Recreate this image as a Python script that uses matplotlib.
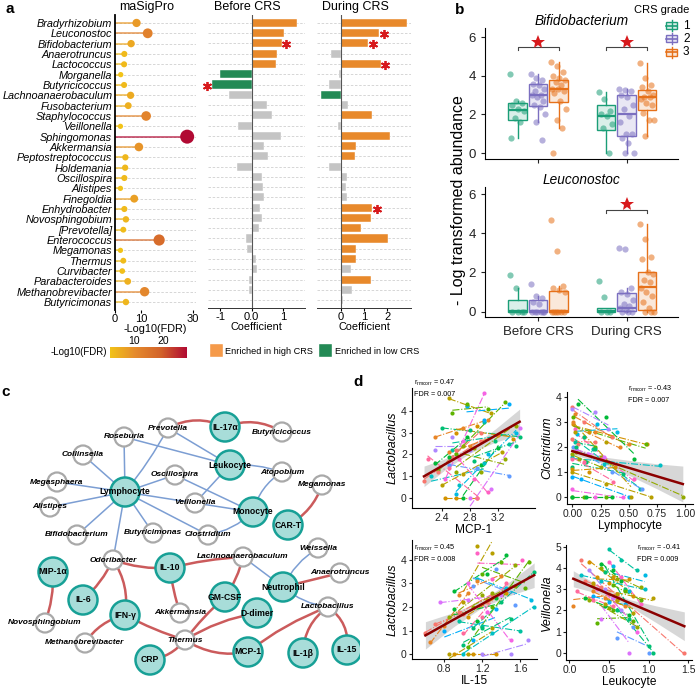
import numpy as np
import matplotlib
matplotlib.use("Agg")
import matplotlib.pyplot as plt
from matplotlib.colors import LinearSegmentedColormap, to_rgba
from matplotlib.patches import Circle, Rectangle, FancyArrowPatch

plt.rcParams['font.family'] = ['Liberation Sans', 'DejaVu Sans']
plt.rcParams['mathtext.default'] = 'regular'

# ---------------- panel a data ----------------
taxa = ['Bradyrhizobium', 'Leuconostoc', 'Bifidobacterium', 'Anaerotruncus', 'Lactococcus',
        'Morganella', 'Butyricicoccus', 'Lachnoanaerobaculum', 'Fusobacterium', 'Staphylococcus',
        'Veillonella', 'Sphingomonas', 'Akkermansia', 'Peptostreptococcus', 'Holdemania',
        'Oscillospira', 'Alistipes', 'Finegoldia', 'Enhydrobacter', 'Novosphingobium',
        '[Prevotella]', 'Enterococcus', 'Megamonas', 'Thermus', 'Curvibacter',
        'Parabacteroides', 'Methanobrevibacter', 'Butyricimonas']
neg_log_fdr = [8.3, 12.6, 6.2, 3.6, 3.5, 2.2, 3.5, 6.0, 5.1, 12.0, 2.1, 27.8, 9.2, 4.0,
               3.9, 3.6, 2.1, 7.4, 3.6, 4.2, 3.2, 17.0, 2.1, 3.2, 2.8, 4.9, 11.4, 4.2]
coef_before = [1.45, 1.03, 0.95, 0.79, 0.77, -1.0, -1.27, -0.71, 0.48, 0.63, -0.44, 0.93,
               0.40, 0.53, -0.46, 0.34, 0.35, 0.38, 0.26, 0.33, 0.23, -0.19, -0.14, 0.14,
               0.17, -0.08, -0.08, 0.01]
coef_during = [2.83, 1.66, 1.19, -0.42, 1.73, -0.06, -0.5, -0.85, 0.33, 1.33, -0.1, 2.11,
               0.67, 0.61, -0.5, 0.29, 0.21, 0.27, 1.36, 1.30, 0.88, 2.04, 0.67, 0.64,
               0.43, 1.31, 0.47, 0.11]
group_before = ['high'] * 5 + ['low'] * 2 + ['ns'] * 21
group_during = ['high', 'high', 'high', 'ns', 'high', 'ns', 'ns', 'low', 'ns', 'high',
                'ns', 'high', 'high', 'high', 'ns', 'ns', 'ns', 'ns', 'high', 'high',
                'high', 'high', 'high', 'high', 'ns', 'high', 'ns', 'ns']
star_before = ['Bifidobacterium', 'Butyricicoccus']
star_during = ['Leuconostoc', 'Bifidobacterium', 'Lactococcus', 'Enhydrobacter']

# ---------------- panel b data ----------------
timepoints = ['Before CRS', 'During CRS']
grades = ['1', '2', '3']
# (whislo, q1, median, q3, whishi) per time point and grade
bifido_stats = [[(0.8, 1.7, 2.25, 2.6, 2.7), (1.6, 2.45, 3.0, 3.6, 4.1), (1.3, 2.65, 3.3, 3.8, 4.7)],
                [(0.0, 1.2, 1.9, 2.5, 3.15), (0.0, 0.9, 2.0, 3.0, 3.3), (0.9, 2.25, 2.9, 3.25, 4.65)]]
bifido_points = [[[4.1, 2.7, 2.6, 2.5, 2.3, 2.2, 1.8, 1.6, 0.8],
                  [4.1, 3.9, 3.8, 3.6, 3.5, 3.3, 3.2, 3.0, 3.0, 2.9, 2.7, 2.5, 2.4, 2.0, 1.6, 0.65],
                  [4.7, 4.5, 4.2, 4.0, 3.9, 3.8, 3.7, 3.5, 3.3, 3.3, 3.2, 3.1, 2.7, 2.3, 1.7, 1.3, 0.0]],
                 [[3.15, 2.8, 2.2, 2.0, 1.9, 1.5, 1.3, 0.0],
                  [3.3, 3.25, 3.2, 3.0, 2.9, 2.5, 2.3, 1.9, 1.6, 1.0, 1.0, 0.8, 0.5, 0.0, 0.0],
                  [4.65, 3.9, 3.5, 3.4, 3.2, 3.0, 2.9, 2.9, 2.8, 2.6, 2.5, 2.1, 1.7, 1.7, 0.9]]]
leuco_stats = [[(0.0, 0.0, 0.02, 0.6, 1.2), (0.0, 0.0, 0.05, 0.6, 0.8), (0.0, 0.0, 0.02, 1.05, 1.3)],
               [(0.0, 0.0, 0.05, 0.2, 0.2), (0.0, 0.05, 0.2, 0.95, 1.2), (0.0, 0.1, 1.25, 2.0, 4.5)]]
leuco_points = [[[1.85, 1.2, 0.0, 0.0, 0.0, 0.0],
                 [1.4, 0.8, 0.7, 0.5, 0.4, 0.0, 0.0, 0.0, 0.0, 0.0, 0.0],
                 [4.7, 3.1, 1.3, 1.2, 1.1, 1.0, 0.0, 0.0, 0.0, 0.0, 0.0, 0.0]],
                [[1.55, 0.75, 0.0, 0.0, 0.0],
                 [3.25, 3.2, 1.2, 1.0, 0.9, 0.6, 0.4, 0.3, 0.2, 0.1, 0.0, 0.0, 0.0],
                 [4.5, 3.7, 2.8, 2.7, 2.0, 1.9, 1.6, 1.5, 1.2, 1.0, 0.8, 0.5, 0.2, 0.0, 0.0, 0.0]]]
bifido_sig = [True, True]
leuco_sig = [False, True]

# ---------------- panel c data ----------------
node_pos = {
    'Prevotella': (168, 428), 'IL-17α': (225, 427), 'Butyricicoccus': (282, 432),
    'Roseburia': (124, 437), 'Collinsella': (83, 455), 'Leukocyte': (230, 465),
    'Oscillospira': (175, 475), 'Atopobium': (282, 472), 'Megasphaera': (57, 482),
    'Lymphocyte': (125, 492), 'Megamonas': (322, 485), 'Alistipes': (50, 507),
    'Veillonella': (195, 503), 'Monocyte': (253, 512), 'CAR-T': (288, 525),
    'Bifidobacterium': (77, 535), 'Butyricimonas': (153, 533), 'Clostridium': (208, 535),
    'Weissella': (318, 548), 'Odoribacter': (113, 560), 'Lachnoanaerobaculum': (243, 557),
    'MIP-1α': (53, 572), 'IL-10': (170, 568), 'Anaerotruncus': (340, 573),
    'Neutrophil': (283, 587), 'GM-CSF': (225, 597), 'IL-6': (83, 600),
    'Lactobacillus': (328, 607), 'D-dimer': (257, 613), 'IFN-γ': (125, 615),
    'Akkermansia': (180, 613), 'Novosphingobium': (45, 623), 'Methanobrevibacter': (85, 643),
    'Thermus': (185, 640), 'MCP-1': (248, 652), 'IL-1β': (303, 653), 'IL-15': (347, 650),
    'CRP': (150, 660),
}
host_nodes = ['IL-17α', 'Leukocyte', 'Lymphocyte', 'Monocyte', 'CAR-T', 'MIP-1α', 'IL-10',
              'Neutrophil', 'GM-CSF', 'IL-6', 'D-dimer', 'IFN-γ', 'MCP-1', 'IL-1β', 'IL-15', 'CRP']
neg_edges = [('Lymphocyte', 'Roseburia', 0), ('Lymphocyte', 'Prevotella', 0.05),
             ('Lymphocyte', 'Collinsella', 0), ('Lymphocyte', 'Megasphaera', 0),
             ('Lymphocyte', 'Alistipes', 0), ('Lymphocyte', 'Bifidobacterium', 0),
             ('Lymphocyte', 'Butyricimonas', 0), ('Lymphocyte', 'Clostridium', 0),
             ('Lymphocyte', 'Oscillospira', 0), ('Lymphocyte', 'Odoribacter', 0),
             ('Lymphocyte', 'Veillonella', 0), ('Veillonella', 'Monocyte', 0),
             ('Veillonella', 'Leukocyte', 0), ('Prevotella', 'Leukocyte', 0),
             ('Roseburia', 'Leukocyte', 0), ('Leukocyte', 'Atopobium', -0.1),
             ('Oscillospira', 'Monocyte', 0), ('Monocyte', 'Atopobium', -0.2),
             ('Monocyte', 'Clostridium', -0.15), ('Lachnoanaerobaculum', 'Neutrophil', 0),
             ('Weissella', 'Neutrophil', 0.15), ('Neutrophil', 'Lactobacillus', 0.15)]
pos_edges = [('Prevotella', 'IL-17α', -0.25), ('IL-17α', 'Butyricicoccus', -0.25),
             ('Megamonas', 'CAR-T', -0.2), ('Odoribacter', 'IL-10', 0.1),
             ('IL-10', 'Lachnoanaerobaculum', -0.05), ('Odoribacter', 'IL-6', -0.1),
             ('Odoribacter', 'IFN-γ', -0.2), ('IL-10', 'Akkermansia', 0.05),
             ('Lachnoanaerobaculum', 'GM-CSF', -0.1), ('GM-CSF', 'Thermus', 0.05),
             ('D-dimer', 'Thermus', 0.1), ('IFN-γ', 'Thermus', 0.05),
             ('IFN-γ', 'Methanobrevibacter', 0.2), ('Thermus', 'CRP', -0.2),
             ('Thermus', 'MCP-1', 0.2), ('MCP-1', 'Lactobacillus', -0.08),
             ('Lactobacillus', 'IL-1β', 0.25), ('Lactobacillus', 'IL-15', -0.3),
             ('Neutrophil', 'Anaerotruncus', 0), ('MIP-1α', 'Novosphingobium', -0.1)]

# ---------------- panel d data ----------------
mcp1_x = [[2.15, 2.55, 2.95], [2.3, 2.7, 3.05], [2.45, 2.6, 2.9], [2.5, 2.75, 3.1],
          [2.6, 2.85, 3.45], [2.35, 2.6, 3.3], [2.7, 2.95, 3.2], [2.4, 2.8, 3.5],
          [2.55, 3.0, 3.35], [2.25, 2.65, 3.0], [2.6, 3.05, 3.45], [2.75, 3.0, 3.35],
          [2.5, 2.9, 3.35], [2.3, 2.55, 2.8], [2.8, 3.1, 3.5], [2.45, 2.7, 3.0],
          [2.65, 2.85, 3.05], [2.2, 2.5, 2.9], [2.35, 2.6, 2.95], [2.5, 2.8, 3.2],
          [2.6, 2.9, 3.4], [2.4, 2.7, 3.25], [2.7, 2.95, 3.3], [2.55, 2.75, 3.05],
          [2.3, 2.5, 2.75], [2.85, 3.15, 3.45]]
lacto1_y = [[0.8, 1.9, 2.6], [2.8, 3.2, 3.6], [0.0, 0.0, 0.0], [4.6, 4.2, 3.9],
            [1.2, 2.3, 3.3], [1.3, 2.0, 4.4], [0.0, 1.5, 2.3], [3.2, 3.1, 2.8],
            [2.2, 3.5, 2.5], [1.0, 0.6, 1.6], [0.2, 2.0, 3.0], [4.2, 3.6, 4.3],
            [1.5, 1.4, 1.0], [2.2, 2.8, 2.2], [0.0, 0.4, 3.2], [0.9, 2.6, 4.8],
            [1.8, 0.9, 0.3], [1.8, 1.4, 0.0], [1.2, 2.2, 3.0], [2.1, 2.4, 2.9],
            [3.0, 3.3, 2.7], [0.6, 1.1, 2.1], [2.4, 1.2, 1.8], [3.9, 4.3, 4.1],
            [1.6, 1.9, 2.8], [1.7, 2.6, 2.4]]
lymph_x = [[0.0, 0.1, 0.35], [0.02, 0.2, 0.5], [0.01, 0.15, 0.66], [0.0, 0.3, 0.7],
           [0.03, 0.25, 0.98], [0.0, 0.1, 0.3], [0.05, 0.3, 0.55], [0.0, 0.12, 0.45],
           [0.02, 0.18, 0.6], [0.0, 0.28, 0.78], [0.04, 0.22, 0.4], [0.0, 0.08, 0.5],
           [0.01, 0.35, 0.62], [0.0, 0.2, 0.32], [0.03, 0.14, 0.28], [0.0, 0.2, 0.45],
           [0.02, 0.25, 0.55], [0.0, 0.1, 0.36], [0.0, 0.05, 0.2], [0.01, 0.1, 0.42],
           [0.0, 0.15, 0.38], [0.02, 0.3, 0.52], [0.0, 0.06, 0.25], [0.01, 0.2, 0.65],
           [0.0, 0.12, 0.35], [0.03, 0.1, 0.2]]
clost_y = [[3.6, 3.0, 2.4], [3.3, 2.6, 2.1], [2.9, 2.6, 2.1], [1.0, 0.5, 0.0],
           [1.8, 1.6, 0.0], [0.0, 0.0, 0.0], [3.7, 3.2, 1.5], [1.2, 1.4, 0.9],
           [2.2, 1.9, 0.3], [1.6, 1.3, 1.25], [2.5, 2.9, 2.6], [0.8, 0.7, 0.0],
           [2.0, 1.0, 0.3], [3.5, 3.4, 2.7], [1.9, 1.7, 1.6], [0.3, 0.0, 0.0],
           [2.7, 1.5, 0.7], [1.5, 1.4, 0.6], [2.3, 2.1, 2.2], [3.0, 2.4, 2.0],
           [1.1, 1.0, 1.2], [2.6, 2.2, 0.0], [1.7, 1.5, 1.2], [3.2, 2.0, 2.1],
           [0.0, 0.0, 0.0], [2.0, 2.4, 1.9]]
il15_x = [[0.6, 0.95, 1.3], [0.65, 0.8, 1.05], [0.9, 1.1, 1.35], [1.0, 1.15, 1.3],
          [0.85, 1.2, 1.55], [1.05, 1.3, 1.7], [0.9, 1.25, 1.45], [1.1, 1.4, 1.75],
          [0.95, 1.2, 1.6], [1.0, 1.3, 1.75], [1.15, 1.45, 1.72], [0.8, 1.1, 1.35],
          [1.1, 1.35, 1.55], [1.2, 1.5, 1.68], [0.75, 1.05, 1.4], [1.05, 1.25, 1.5],
          [1.15, 1.3, 1.62], [1.0, 1.2, 1.45], [0.7, 1.0, 1.25], [0.95, 1.15, 1.4],
          [1.05, 1.25, 1.45], [0.85, 1.05, 1.3], [1.1, 1.3, 1.55], [1.2, 1.4, 1.65],
          [0.9, 1.15, 1.35], [1.0, 1.2, 1.5]]
lacto2_y = [[0.9, 1.8, 2.5], [0.5, 1.2, 2.6], [0.0, 0.0, 0.0], [2.2, 4.6, 4.3],
            [1.6, 2.5, 3.8], [0.3, 2.0, 3.9], [2.7, 3.4, 4.2], [1.1, 2.2, 3.5],
            [1.4, 1.2, 1.0], [0.0, 0.9, 2.0], [3.2, 2.8, 2.3], [1.0, 0.6, 1.9],
            [2.9, 3.6, 2.1], [0.0, 0.0, 0.6], [2.2, 2.3, 2.5], [3.0, 1.8, 0.6],
            [4.3, 3.2, 4.0], [0.9, 1.6, 3.0], [1.3, 1.7, 2.2], [2.5, 3.1, 3.3],
            [1.6, 2.3, 2.6], [0.0, 0.0, 1.1], [2.0, 2.6, 2.9], [3.4, 3.9, 2.8],
            [1.9, 1.4, 2.4], [0.4, 1.1, 1.5]]
leuko_x = [[0.15, 0.5, 1.45], [0.05, 0.3, 0.6], [0.25, 0.55, 0.8], [0.3, 0.6, 1.05],
           [0.4, 0.6, 0.9], [0.35, 0.55, 0.8], [0.2, 0.45, 0.75], [0.45, 0.7, 1.0],
           [0.5, 0.65, 0.85], [0.15, 0.4, 0.95], [0.55, 0.75, 0.95], [0.3, 0.5, 0.7],
           [0.6, 0.8, 1.0], [0.25, 0.45, 0.65], [0.4, 0.55, 0.75], [0.35, 0.6, 0.85],
           [0.5, 0.65, 0.9], [0.1, 0.3, 0.55], [0.2, 0.4, 0.6], [0.3, 0.45, 0.7],
           [0.35, 0.5, 0.75], [0.45, 0.6, 0.8], [0.25, 0.5, 0.85], [0.55, 0.7, 0.9],
           [0.4, 0.55, 0.65], [0.6, 0.75, 1.05]]
veill_y = [[4.4, 2.8, 0.0], [2.2, 3.2, 2.5], [4.3, 3.6, 2.7], [3.3, 2.5, 2.6],
           [4.0, 3.5, 3.1], [1.4, 2.0, 1.5], [2.6, 2.2, 1.8], [3.8, 3.0, 0.3],
           [4.9, 4.4, 3.9], [3.7, 3.4, 3.0], [4.1, 2.9, 3.7], [2.7, 2.4, 2.3],
           [0.7, 1.2, 0.0], [3.9, 3.0, 2.0], [1.6, 2.6, 0.0], [3.0, 2.7, 1.0],
           [4.3, 3.6, 2.3], [2.9, 2.5, 2.2], [3.4, 3.1, 2.8], [2.9, 2.6, 2.2],
           [3.6, 3.3, 3.5], [2.3, 2.8, 1.9], [2.5, 2.1, 1.2], [3.2, 2.9, 2.5],
           [4.2, 3.9, 3.4], [2.0, 1.6, 0.0]]
# overall fit line and half width of the confidence band
fit_x = [[2.15, 2.45, 2.8, 3.15, 3.5], [0.0, 0.25, 0.5, 0.75, 0.98],
         [0.6, 0.9, 1.2, 1.5, 1.75], [0.05, 0.4, 0.75, 1.1, 1.45]]
fit_y = [[1.0, 1.56, 2.2, 2.85, 3.5], [1.82, 1.48, 1.15, 0.81, 0.5],
         [0.8, 1.47, 2.13, 2.8, 3.35], [3.5, 2.94, 2.37, 1.81, 1.25]]
fit_hw = [[0.47, 0.25, 0.13, 0.3, 0.58], [0.13, 0.12, 0.3, 0.5, 0.72],
          [0.58, 0.3, 0.15, 0.3, 0.52], [0.38, 0.17, 0.15, 0.4, 0.68]]
r_vals = ['0.47', '-0.43', '0.45', '-0.41']
fdr_vals = ['0.007', '0.007', '0.008', '0.009']

W, H = 700, 688
fig = plt.figure(figsize=(7, 6.88), dpi=100)


def box(l, t, r, b):
    return [l / W, 1 - b / H, (r - l) / W, (b - t) / H]


def ftext(x, y, s, **kw):
    fig.text(x / W, 1 - y / H, s, **kw)


ORANGE = '#E8892B'
GREEN = '#238A55'
GREY = '#C4C4C4'
bar_col = {'high': ORANGE, 'low': GREEN, 'ns': GREY}
cmap = LinearSegmentedColormap.from_list('fdr', ['#F2C318', '#E58A2D', '#D2622A', '#B10A33'])
vmin, vmax = 2.1, 27.8

n = len(taxa)
ypos = np.arange(n)
ylim = (27.77, -0.77)

# lollipop
ax = fig.add_axes(box(115, 15, 196, 310))
for y in ypos:
    ax.axhline(y, color='#D0D0D0', lw=0.6, ls=(0, (3, 2)), zorder=0)
vals = np.array(neg_log_fdr)
cols = cmap((vals - vmin) / (vmax - vmin))
for y, v, c in zip(ypos, vals, cols):
    ax.plot([0, v], [y, y], color=c, lw=1.2, alpha=0.75, zorder=1)
ax.scatter(vals, ypos, s=14 + (vals - 2) * 3.4, c=cols, zorder=3, clip_on=False, lw=0)
ax.set_xlim(0, 31.2)
ax.set_ylim(*ylim)
ax.set_yticks(ypos)
ax.set_yticklabels(taxa, fontsize=7.8, style='italic')
ax.tick_params(axis='y', length=0, pad=2)
ax.set_xticks([0, 10, 30])
ax.tick_params(axis='x', labelsize=8, length=2, pad=1)
for s in ['top', 'right', 'bottom']:
    ax.spines[s].set_visible(False)
ax.spines['left'].set_linewidth(1.3)
ax.set_xlabel('-Log10(FDR)', fontsize=7.8, labelpad=0)


def bar_panel(rect, coefs, groups, stars, xlim, ticks, ticklabels, star_off):
    a = fig.add_axes(box(*rect))
    for y in ypos:
        a.axhline(y, color='#D0D0D0', lw=0.6, ls=(0, (3, 2)), zorder=0)
    a.barh(ypos, coefs, height=0.78, color=[bar_col[g] for g in groups],
           edgecolor='white', lw=0.3, zorder=2)
    a.axvline(0, color='#555555', lw=0.8, zorder=3)
    for t in stars:
        i = taxa.index(t)
        c = coefs[i]
        xs = c + star_off if c > 0 else c - star_off
        a.plot(xs, i + 0.1, marker=(6, 2, 0), ms=6.5, mew=1.3, color='#D7191C',
               clip_on=False, zorder=4)
    a.set_xlim(*xlim)
    a.set_ylim(*ylim)
    a.set_yticks([])
    a.set_xticks(ticks)
    a.set_xticklabels(ticklabels)
    a.tick_params(axis='x', labelsize=8, length=2, pad=1)
    for s in ['top', 'right', 'left']:
        a.spines[s].set_visible(False)
    a.spines['bottom'].set_color('#333333')
    a.spines['bottom'].set_linewidth(0.7)
    a.set_xlabel('Coefficient', fontsize=7.8, labelpad=0)
    return a


bar_panel((208, 15, 305, 308), coef_before, group_before, star_before,
          (-1.387, 1.69), [-1, 0, 1], ['-1', '0.0', '1'], 0.14)
bar_panel((317, 15, 411, 308), coef_during, group_during, star_during,
          (-1.02, 3.02), [0, 1, 2], ['0', '1', '2'], 0.19)

ftext(147, 7, 'maSigPro', fontsize=9, ha='center', va='center')
ftext(247, 7, 'Before CRS', fontsize=9, ha='center', va='center')
ftext(355, 7, 'During CRS', fontsize=9, ha='center', va='center')

# colour bar legend
cax = fig.add_axes(box(110, 347, 187, 358))
grad = np.linspace(vmin, vmax, 256)[None, :]
cax.imshow(grad, cmap=cmap, aspect='auto', extent=(vmin, vmax, 0, 1), vmin=vmin, vmax=vmax)
cax.set_yticks([])
cax.set_xticks([10, 20])
cax.xaxis.tick_top()
cax.tick_params(axis='x', labelsize=7.5, length=0, pad=1)
for s in cax.spines.values():
    s.set_visible(False)
ftext(107, 352, '-Log10(FDR)', fontsize=7, ha='right', va='center')
fig.patches.append(Rectangle((209 / W, 1 - 357 / H), 14 / W, 14 / H, transform=fig.transFigure,
                             color='#F59A4A', ec='white'))
ftext(225, 351, 'Enriched in high CRS', fontsize=6.6, va='center')
fig.patches.append(Rectangle((318 / W, 1 - 357 / H), 14 / W, 14 / H, transform=fig.transFigure,
                             color='#238A55', ec='white'))
ftext(335, 352, 'Enriched in low CRS', fontsize=6.6, va='center')

# ---------------- panel b ----------------
grade_colors = ['#1B9E77', '#7B6FC0', '#E6711A']
offsets = [-0.232, 0.0, 0.232]
bw = 0.21


def box_panel(rect, stats, points, sig, title, ylim_b, bracket_y, show_labels):
    a = fig.add_axes(box(*rect))
    for ti in range(2):
        for gi in range(3):
            lo, q1, med, q3, hi = stats[ti][gi]
            xc = ti + 1 + offsets[gi]
            col = grade_colors[gi]
            a.bxp([dict(whislo=lo, q1=q1, med=med, q3=q3, whishi=hi, fliers=[])],
                  positions=[xc], widths=bw, patch_artist=True, showfliers=False,
                  boxprops=dict(facecolor=to_rgba(col, 0.16), edgecolor=col, lw=1.0),
                  whiskerprops=dict(color=col, lw=1.0), capwidths=0,
                  capprops=dict(lw=0), medianprops=dict(color=col, lw=1.6))
            pts = np.array(points[ti][gi])
            jit = ((np.arange(len(pts)) * 0.383) % 1 - 0.5) * 0.17
            a.scatter(xc + jit, pts, s=20, color=col, alpha=0.55, lw=0, zorder=3)
        if sig[ti]:
            x1, x3 = ti + 1 + offsets[0], ti + 1 + offsets[2]
            a.plot([x1, x1, x3, x3], [bracket_y - 0.18, bracket_y, bracket_y, bracket_y - 0.18],
                   color='#444444', lw=0.8)
            a.plot(ti + 1, bracket_y + 0.28, marker='*', ms=10, color='#D7191C', mew=0)
    a.set_xlim(0.4, 2.58)
    a.set_ylim(*ylim_b)
    a.set_yticks([0, 2, 4, 6])
    a.set_xticks([1, 2])
    a.set_xticklabels(timepoints if show_labels else ['', ''])
    a.tick_params(axis='both', labelsize=9.5, length=3, colors='#222222')
    for s in ['top', 'right']:
        a.spines[s].set_visible(False)
    a.set_title(title, fontsize=9.8, style='italic', pad=2)
    return a


box_panel((485, 28, 678, 159), bifido_stats, bifido_points, bifido_sig, 'Bifidobacterium',
          (-0.31, 6.48), 5.5, False)
box_panel((485, 186.7, 678, 317.3), leuco_stats, leuco_points, leuco_sig, 'Leuconostoc',
          (-0.29, 6.38), 5.2, True)
ftext(458, 200, '- Log transformed abundance', fontsize=11.5, rotation=90, ha='center', va='center')

# legend for CRS grade
ftext(662, 10, 'CRS grade', fontsize=8, ha='center', va='center')
lax = fig.add_axes(box(660, 18, 700, 60))
lax.set_xlim(0, 40)
lax.set_ylim(42, 0)
lax.axis('off')
for gi, (g, col) in enumerate(zip(grades, grade_colors)):
    yc = 7.7 + gi * 13.2
    lax.plot([11.7, 11.7], [yc - 5.5, yc + 5.5], color=col, lw=1)
    lax.add_patch(Rectangle((6.2, yc - 3.5), 11, 7, fc=to_rgba(col, 0.18), ec=col, lw=1))
    lax.plot([6.2, 17.2], [yc, yc], color=col, lw=1.2)
    lax.text(23, yc, g, fontsize=8.5, va='center')

# ---------------- panel c ----------------
cx = fig.add_axes(box(0, 370, 360, 688))
cx.set_xlim(0, 360)
cx.set_ylim(688, 370)
cx.axis('off')
for a_, b_, rad in neg_edges:
    cx.add_patch(FancyArrowPatch(node_pos[a_], node_pos[b_], arrowstyle='-',
                                 connectionstyle=f'arc3,rad={rad}', color='#7C9ED3',
                                 lw=1.1, shrinkA=0, shrinkB=0, zorder=1))
for a_, b_, rad in pos_edges:
    cx.add_patch(FancyArrowPatch(node_pos[a_], node_pos[b_], arrowstyle='-',
                                 connectionstyle=f'arc3,rad={rad}', color='#CB5B5C',
                                 lw=1.8, shrinkA=0, shrinkB=0, zorder=1))
for name, (x, y) in node_pos.items():
    if name in host_nodes:
        cx.add_patch(Circle((x, y), 14.5, fc='#A8DDD9', ec='#17A096', lw=1.8, zorder=2))
        cx.text(x, y, name, fontsize=6.2, fontweight='bold', ha='center', va='center', zorder=3)
    else:
        cx.add_patch(Circle((x, y), 9.5, fc='white', ec='#A9A9A9', lw=1.6, zorder=2))
        cx.text(x, y, name, fontsize=6, fontweight='bold', style='italic',
                ha='center', va='center', zorder=3)

# ---------------- panel d ----------------
hue = ['#F8766D', '#E88526', '#D39200', '#B79F00', '#93AA00', '#5EB300', '#00BA38',
       '#00BF74', '#00C19F', '#00BFC4', '#00B9E3', '#00ADFA', '#619CFF', '#AE87FF',
       '#DB72FB', '#F564E3', '#FF61C3', '#FF699C']
d_axes = [((411.7, 388, 535, 508), mcp1_x, lacto1_y, 'MCP-1', 'Lactobacillus',
           (1.976, 3.717), (-0.45, 5.045), [2.4, 2.8, 3.2], ['2.4', '2.8', '3.2'], [0, 1, 2, 3, 4],
           (414, 383)),
          ((566.7, 391.7, 693.3, 504), lymph_x, clost_y, 'Lymphocyte', 'Clostridium',
           (-0.05, 1.073), (-0.3, 4.2), [0, 0.25, 0.5, 0.75, 1.0],
           ['0.00', '0.25', '0.50', '0.75', '1.00'], [0, 1, 2, 3, 4], (628, 389)),
          ((411.7, 540, 536.7, 659), il15_x, lacto2_y, 'IL-15', 'Lactobacillus',
           (0.455, 1.777), (-0.2, 4.84), [0.8, 1.2, 1.6], ['0.8', '1.2', '1.6'], [0, 1, 2, 3, 4],
           (414, 548)),
          ((566, 545, 691.7, 660), leuko_x, veill_y, 'Leukocyte', 'Veillonella',
           (-0.042, 1.543), (-0.35, 5.1), [0, 0.5, 1.0, 1.5], ['0.0', '0.5', '1.0', '1.5'],
           [0, 1, 2, 3, 4, 5], (637, 548))]
for k, (rect, xs, ys, xl, yl, xlim_d, ylim_d, xt, xtl, yt, tpos) in enumerate(d_axes):
    a = fig.add_axes(box(*rect))
    fx = np.array(fit_x[k])
    fy = np.array(fit_y[k])
    hw = np.array(fit_hw[k])
    gx = np.linspace(fx[0], fx[-1], 60)
    a.fill_between(gx, np.interp(gx, fx, fy - hw), np.interp(gx, fx, fy + hw),
                   color='#BDBDBD', alpha=0.6, lw=0, zorder=1)
    for si, (sx, sy) in enumerate(zip(xs, ys)):
        col = hue[si % len(hue)]
        sx = np.array(sx)
        sy = np.array(sy)
        p = np.polyfit(sx, sy, 1)
        lx = np.array([sx.min(), sx.max()])
        a.plot(lx, np.polyval(p, lx), ls='-.', lw=0.8, color=col, zorder=2)
        a.scatter(sx, sy, s=9, color=col, lw=0, zorder=3)
    a.plot(fx, fy, color='#8B0000', lw=1.8, zorder=4)
    a.set_xlim(*xlim_d)
    a.set_ylim(*ylim_d)
    a.set_xticks(xt)
    a.set_xticklabels(xtl)
    a.set_yticks(yt)
    a.tick_params(labelsize=7.5, length=2.5, pad=1, colors='#222222')
    for s in ['top', 'right']:
        a.spines[s].set_visible(False)
    a.set_xlabel(xl, fontsize=8.6, labelpad=0.5)
    a.set_ylabel(yl, fontsize=9, style='italic', labelpad=2)
    ftext(tpos[0], tpos[1], r'$r_{rmcorr}$ = ' + r_vals[k], fontsize=5.2, va='center')
    ftext(tpos[0], tpos[1] + 11.5, 'FDR = ' + fdr_vals[k], fontsize=5.2, va='center')

# panel letters
ftext(10, 9, 'a', fontsize=11, fontweight='bold', ha='center', va='center')
ftext(460, 10, 'b', fontsize=11, fontweight='bold', ha='center', va='center')
ftext(6, 392, 'c', fontsize=11, fontweight='bold', ha='center', va='center')
ftext(358, 382, 'd', fontsize=11, fontweight='bold', ha='center', va='center')

fig.savefig('out.png', dpi=100)
